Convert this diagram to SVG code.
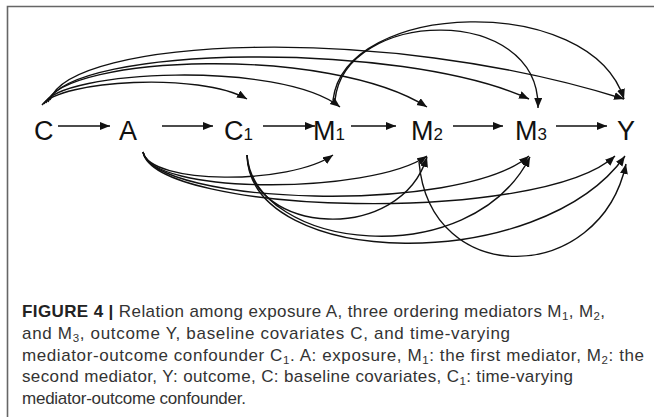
<svg xmlns="http://www.w3.org/2000/svg" width="654" height="417" viewBox="0 0 654 417">
<style>
.node{font-family:"Liberation Sans",Arial,sans-serif;font-size:27px;fill:#111}
.sub{font-size:17px}
.edge{fill:none;stroke:#111;stroke-width:1.4}
.frame{stroke:#666;stroke-width:1.6;fill:none}
.cap{font-family:"Liberation Sans",Arial,sans-serif;font-size:17px;fill:#333}
.capsub{font-size:11.5px}
</style>
<defs>
<marker id="ah" markerUnits="userSpaceOnUse" markerWidth="11" markerHeight="9" refX="10" refY="4" orient="auto">
<path d="M0,0 L10,4 L0,8 z" fill="#111"/>
</marker>
</defs>
<path class="frame" d="M7.5,417 L7.5,6.5 L654,6.5"/>
<g id="nodes">
<g id="node-C"><text class="node" x="34" y="140">C</text></g>
<g id="node-A"><text class="node" x="119" y="140">A</text></g>
<g id="node-C1"><text class="node" x="224" y="140">C<tspan class="sub">1</tspan></text></g>
<g id="node-M1"><text class="node" x="313" y="140">M<tspan class="sub">1</tspan></text></g>
<g id="node-M2"><text class="node" x="411" y="140">M<tspan class="sub">2</tspan></text></g>
<g id="node-M3"><text class="node" x="515" y="140">M<tspan class="sub">3</tspan></text></g>
<g id="node-Y"><text class="node" x="617" y="140">Y</text></g>
</g>
<g id="connectors">
<path class="edge" marker-end="url(#ah)" d="M58,126 L110,126"/>
<path class="edge" marker-end="url(#ah)" d="M162,126 L213,126"/>
<path class="edge" marker-end="url(#ah)" d="M263,126 L315,126"/>
<path class="edge" marker-end="url(#ah)" d="M351,126 L396,126"/>
<path class="edge" marker-end="url(#ah)" d="M453,126 L503,126"/>
<path class="edge" marker-end="url(#ah)" d="M556,126 L607,126"/>
<path class="edge" marker-end="url(#ah)" d="M42,105 C60,80 200,72 247,99"/>
<path class="edge" marker-end="url(#ah)" d="M44,104 C60,70 280,60 340,107"/>
<path class="edge" marker-end="url(#ah)" d="M46,103 C65,55 330,45 427,107"/>
<path class="edge" marker-end="url(#ah)" d="M48,102 C70,45 400,40 529,99"/>
<path class="edge" marker-end="url(#ah)" d="M50,100 C70,38 380,22 624,99"/>
<path class="edge" marker-end="url(#ah)" d="M335,100 C345,8 540,3 538,108"/>
<path class="edge" marker-end="url(#ah)" d="M333,100 C345,0 590,-8 624,99"/>
<path class="edge" marker-end="url(#ah)" d="M143,152 C150,185 290,185 333,155"/>
<path class="edge" marker-end="url(#ah)" d="M143,152 C150,195 370,195 427,156"/>
<path class="edge" marker-end="url(#ah)" d="M143,152 C155,205 460,215 529,156"/>
<path class="edge" marker-end="url(#ah)" d="M143,152 C155,215 540,225 615,156"/>
<path class="edge" marker-end="url(#ah)" d="M247,155 C250,235 400,245 427,157"/>
<path class="edge" marker-end="url(#ah)" d="M247,155 C255,250 470,275 530,157"/>
<path class="edge" marker-end="url(#ah)" d="M247,155 C250,270 540,275 625,156"/>
<path class="edge" marker-end="url(#ah)" d="M419,162 C430,290 600,285 626,164"/>
</g>
<g id="caption">
<text class="cap" x="22" y="317" textLength="583" lengthAdjust="spacing"><tspan font-weight="bold" fill="#222">FIGURE 4 |</tspan> Relation among exposure A, three ordering mediators M<tspan class="capsub" dy="3">1</tspan><tspan dy="-3">, M</tspan><tspan class="capsub" dy="3">2</tspan><tspan dy="-3">,</tspan></text>
<text class="cap" x="22" y="339" textLength="488" lengthAdjust="spacing">and M<tspan class="capsub" dy="3">3</tspan><tspan dy="-3">, outcome Y, baseline covariates C, and time-varying</tspan></text>
<text class="cap" x="22" y="361" textLength="622" lengthAdjust="spacing">mediator-outcome confounder C<tspan class="capsub" dy="3">1</tspan><tspan dy="-3">. A: exposure, M</tspan><tspan class="capsub" dy="3">1</tspan><tspan dy="-3">: the first mediator, M</tspan><tspan class="capsub" dy="3">2</tspan><tspan dy="-3">: the</tspan></text>
<text class="cap" x="22" y="382" textLength="551" lengthAdjust="spacing">second mediator, Y: outcome, C: baseline covariates, C<tspan class="capsub" dy="3">1</tspan><tspan dy="-3">: time-varying</tspan></text>
<text class="cap" x="22" y="404" textLength="224" lengthAdjust="spacing">mediator-outcome confounder.</text>
</g>
</svg>
